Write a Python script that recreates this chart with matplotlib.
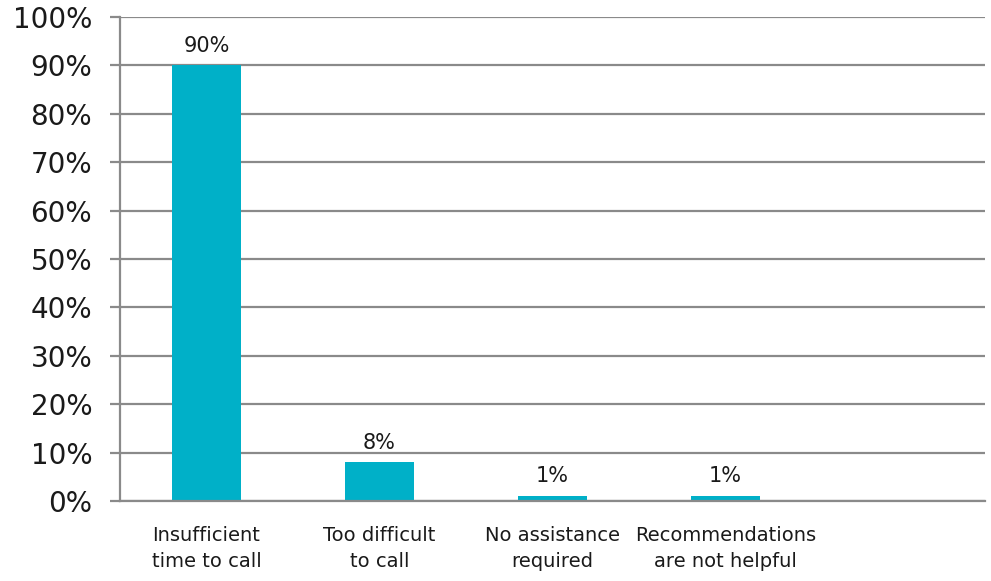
import matplotlib.pyplot as plt
import numpy as np

categories = ["Insufficient\ntime to call", "Too difficult\nto call",
              "No assistance\nrequired", "Recommendations\nare not helpful"]
values = [90, 8, 1, 1]
y_ticks = [0, 10, 20, 30, 40, 50, 60, 70, 80, 90, 100]

plt.rcParams['font.family'] = ['DejaVu Sans']

fig = plt.figure(figsize=(9.91, 5.81), dpi=100)
ax = fig.add_axes([0.1211, 0.1377, 0.873, 0.833])

bar_color = '#00B0C8'
grid_color = '#8a8a8a'
text_color = '#1a1a1a'

x = np.arange(len(categories))
ax.bar(x, values, width=0.4, color=bar_color, zorder=3)

# 数值标签
for xi, v in zip(x, values):
    ax.annotate(f"{v}%", (xi, v), xytext=(0, 7), textcoords='offset points',
                ha='center', va='bottom', fontsize=15, color=text_color)

ax.set_xlim(-0.5, 4.5)
ax.set_ylim(0, 100)
ax.set_yticks(y_ticks)
ax.set_yticklabels([f"{t}%" for t in y_ticks], fontsize=20, color=text_color)
ax.set_xticks(x)
ax.set_xticklabels(categories, fontsize=14, color=text_color, linespacing=1.5)

ax.yaxis.grid(True, color=grid_color, linewidth=1.6, zorder=0)
ax.tick_params(axis='y', length=7, width=1.6, color=grid_color, pad=13)
ax.tick_params(axis='x', length=0, pad=18)

for side in ['top', 'right']:
    ax.spines[side].set_visible(False)
for side in ['left', 'bottom']:
    ax.spines[side].set_color(grid_color)
    ax.spines[side].set_linewidth(1.6)
ax.spines['bottom'].set_zorder(4)

fig.savefig("out.png", dpi=100)
